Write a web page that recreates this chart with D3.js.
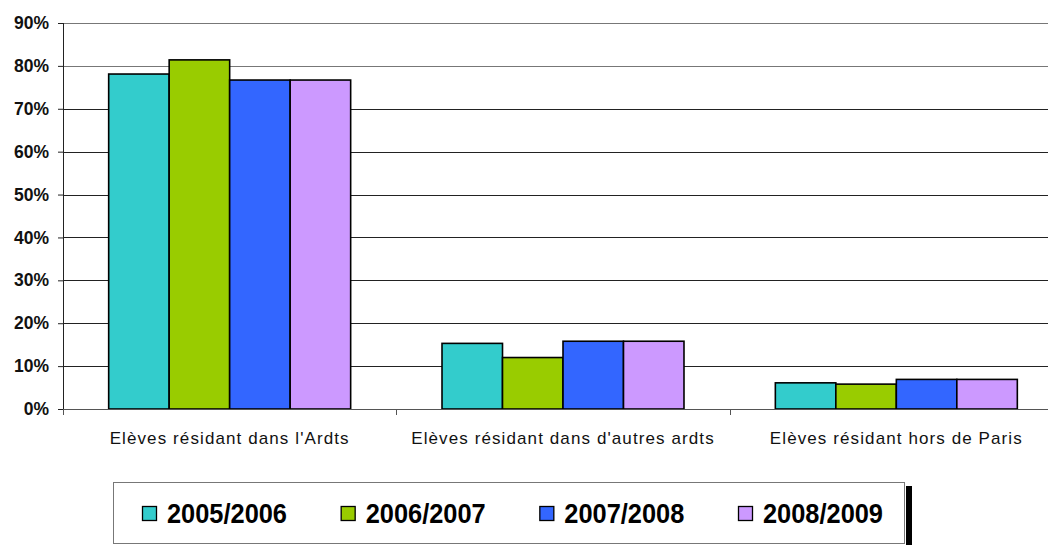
<!DOCTYPE html>
<html>
<head>
<meta charset="utf-8">
<script src="https://cdn.jsdelivr.net/npm/d3@7"></script>
<style>
  html, body { margin: 0; padding: 0; background: #fff; }
  svg { display: block; font-family: "Liberation Sans", Arial, sans-serif; }
</style>
</head>
<body>
<svg width="1048" height="545"></svg>
<script>
var categories = ["Elèves résidant dans l'Ardts", "Elèves résidant dans d'autres ardts", "Elèves résidant hors de Paris"];
var seriesNames = ["2005/2006", "2006/2007", "2007/2008", "2008/2009"];
var colors = ["#33CCCC", "#99CC00", "#3366FF", "#CC99FF"];
var values2005 = [0.781, 0.153, 0.061];
var values2006 = [0.814, 0.120, 0.058];
var values2007 = [0.767, 0.158, 0.069];
var values2008 = [0.767, 0.158, 0.069];
var yTicks = [0, 0.1, 0.2, 0.3, 0.4, 0.5, 0.6, 0.7, 0.8, 0.9];

var seriesValues = [values2005, values2006, values2007, values2008];

var margin = {top: 23, left: 63};
var plotW = 1000, plotH = 386;

var svg = d3.select("svg");
var g = svg.append("g").attr("transform", "translate(" + margin.left + "," + margin.top + ")");

var x = d3.scaleBand().domain(categories).range([0, plotW]);
var xs = d3.scaleBand().domain(seriesNames).range([0, x.bandwidth()]).paddingInner(0).paddingOuter(0.755);
var y = d3.scaleLinear().domain([0, 0.9]).range([plotH, 0]);

// gridlines
g.append("g").selectAll("line")
  .data(yTicks.slice(1))
  .enter().append("line")
  .attr("x1", 0).attr("x2", plotW)
  .attr("y1", function(d) { return Math.round(y(d)) + 0.5; })
  .attr("y2", function(d) { return Math.round(y(d)) + 0.5; })
  .attr("stroke", function(d) { return d > 0.75 ? "#777" : "#222"; })
  .attr("stroke-width", 1);

// bars
var rows = [];
categories.forEach(function(c, i) {
  seriesNames.forEach(function(s, j) {
    rows.push({cat: c, s: s, v: seriesValues[j][i], color: colors[j]});
  });
});
g.append("g").selectAll("rect")
  .data(rows)
  .enter().append("rect")
  .attr("x", function(d) { return x(d.cat) + xs(d.s); })
  .attr("width", xs.bandwidth())
  .attr("y", function(d) { return y(d.v); })
  .attr("height", function(d) { return plotH - y(d.v); })
  .attr("fill", function(d) { return d.color; })
  .attr("stroke", "#000")
  .attr("stroke-width", 1.6);

// y axis
var yAxis = g.append("g")
  .call(d3.axisLeft(y).tickValues(yTicks).tickFormat(d3.format(".0%")).tickSize(5).tickPadding(9));
yAxis.select(".domain").attr("stroke", "#222").attr("d", "M0.5," + plotH + "V0");
yAxis.selectAll(".tick line").attr("stroke", "#222");
yAxis.selectAll("text")
  .attr("font-size", 17.5).attr("font-weight", "bold").attr("fill", "#111")
  .attr("font-family", "'Liberation Sans', Arial, sans-serif");

// x axis
var xAxis = g.append("g")
  .attr("transform", "translate(0," + plotH + ")")
  .call(d3.axisBottom(x).tickSize(0).tickPadding(23));
xAxis.select(".domain").attr("stroke", "#555").attr("d", "M0," + 0.5 + "H" + plotW);
xAxis.selectAll("text")
  .attr("font-size", 17).attr("fill", "#111").attr("letter-spacing", "1.1px")
  .attr("font-family", "'Liberation Sans', Arial, sans-serif");
// category separator ticks
g.append("g").selectAll("line")
  .data(categories)
  .enter().append("line")
  .attr("x1", function(d) { return Math.round(x(d)) + 0.5; })
  .attr("x2", function(d) { return Math.round(x(d)) + 0.5; })
  .attr("y1", plotH).attr("y2", plotH + 6)
  .attr("stroke", "#555");

// legend
var legend = svg.append("g").attr("transform", "translate(113,482)");
legend.append("rect").attr("x", 793).attr("y", 4).attr("width", 6).attr("height", 70).attr("fill", "#000");
legend.append("rect").attr("x", 0.5).attr("y", 0.5).attr("width", 791).attr("height", 61)
  .attr("fill", "#fff").attr("stroke", "#777").attr("stroke-width", 1);
var lx = d3.scalePoint().domain(seriesNames).range([29, 625]);
var items = legend.selectAll("g.item")
  .data(seriesNames)
  .enter().append("g")
  .attr("class", "item")
  .attr("transform", function(d) { return "translate(" + lx(d) + ",0)"; });
items.append("rect")
  .attr("x", 0.5).attr("y", 24.5).attr("width", 14).attr("height", 14)
  .attr("fill", function(d, i) { return colors[i]; })
  .attr("stroke", "#000").attr("stroke-width", 1.3);
items.append("text")
  .attr("x", 25).attr("y", 41)
  .attr("font-size", 27).attr("font-weight", "bold").attr("fill", "#000")
  .attr("textLength", 120).attr("lengthAdjust", "spacingAndGlyphs")
  .text(function(d) { return d; });
</script>
</body>
</html>
